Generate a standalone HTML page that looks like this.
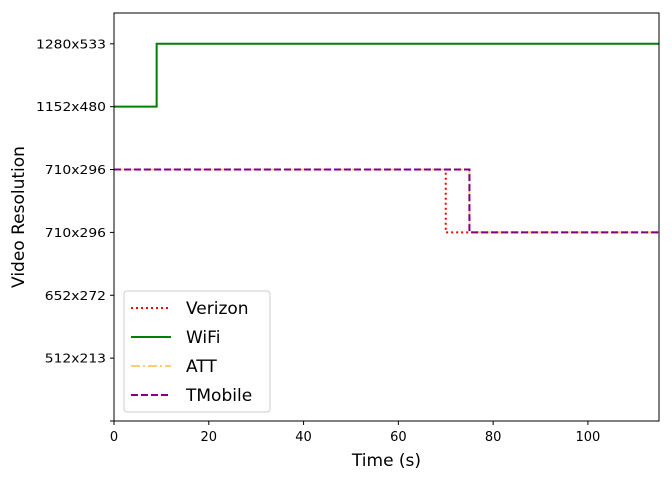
<!DOCTYPE html>
<html><head><meta charset="utf-8"><style>
body{margin:0;background:#fff;font-family:"Liberation Sans","DejaVu Sans",sans-serif}
svg text{font-family:"DejaVu Sans","Liberation Sans",sans-serif}
</style></head><body>
<svg id="chart" width="672" height="480" xmlns="http://www.w3.org/2000/svg"></svg>
<script>
const yLabels=["","512x213","652x272","710x296","710x296","1152x480","1280x533"];
const xTicks=[0,20,40,60,80,100];
const seriesNames=["Verizon","WiFi","ATT","TMobile"];
const verizonX=[0,70,70,115];
const verizonY=[4,4,3,3];
const wifiX=[0,9,9,115];
const wifiY=[5,5,6,6];
const attX=[0,75,75,115];
const attY=[4,4,3,3];
const tmobileX=[0,75,75,115];
const tmobileY=[4,4,3,3];
const L=114,R=659,T=13,B=421,XMAX=115,YMAX=6.49;
const sx=v=>L+v/XMAX*(R-L);
const sy=v=>B-v/YMAX*(B-T);
const svg=document.getElementById('chart');
const NS="http://www.w3.org/2000/svg";
function mk(tag,attrs,name,parent){const e=document.createElementNS(NS,tag);for(const k in attrs)e.setAttribute(k,attrs[k]);


(parent||svg).appendChild(e);return e;}
const styles=[
 {x:verizonX,y:verizonY,c:"red",d:"2,3",n:"verizon-line"},
 {x:wifiX,y:wifiY,c:"green",d:"",n:"wifi-line"},
 {x:attX,y:attY,c:"#ffcc77",d:"9,3,2,3",n:"att-line"},
 {x:tmobileX,y:tmobileY,c:"purple",d:"7,3",n:"tmobile-line"}];
styles.forEach(s=>{
 const pts=s.x.map((v,i)=>sx(v)+","+sy(s.y[i])).join(" ");
 const a={points:pts,fill:"none",stroke:s.c,"stroke-width":2};
 if(s.d)a["stroke-dasharray"]=s.d;
 mk('polyline',a,s.n);
});
mk('rect',{x:L,y:T,width:R-L,height:B-T,fill:"none",stroke:"#000","stroke-width":1},'plot-frame');
yLabels.forEach((lab,i)=>{
 const y=sy(i);
 mk('line',{x1:L-4,x2:L,y1:y,y2:y,stroke:"#000"},'y-tick');
 if(lab){const t=mk('text',{x:L-8,y:y+4.5,"text-anchor":"end","font-size":12,"textLength":lab.length*8.75,"lengthAdjust":"spacingAndGlyphs"},'y-tick-label');t.textContent=lab;}
});
xTicks.forEach(v=>{
 const x=sx(v);
 mk('line',{x1:x,x2:x,y1:B,y2:B+4,stroke:"#000"},'x-tick');
 const t=mk('text',{x:x,y:B+20,"text-anchor":"middle","font-size":13},'x-tick-label');t.textContent=v;
});
let t=mk('text',{x:(L+R)/2,y:466,"text-anchor":"middle","font-size":17},'x-axis-title');t.textContent="Time (s)";
t=mk('text',{x:24,y:(T+B)/2,"text-anchor":"middle","font-size":17,transform:`rotate(-90 24 ${(T+B)/2})`},'y-axis-title');t.textContent="Video Resolution";
const g=mk('g',{},'legend');
mk('rect',{x:124,y:291,width:146,height:121,rx:3,fill:"#fff","fill-opacity":0.8,stroke:"#ccc"},'legend-box',g);
styles.forEach((s,i)=>{
 const y=308+i*29;
 const a={x1:131,x2:171,y1:y,y2:y,stroke:s.c,"stroke-width":2};
 if(s.d)a["stroke-dasharray"]=s.d;
 mk('line',a,'legend-swatch',g);
 const tt=mk('text',{x:186,y:y+6,"font-size":17},'legend-entry',g);tt.textContent=seriesNames[i];
});
</script>
</body></html>
